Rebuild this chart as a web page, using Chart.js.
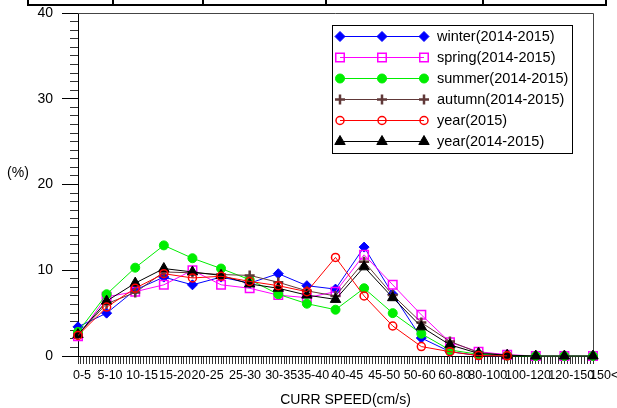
<!DOCTYPE html>
<html>
<head>
<meta charset="utf-8">
<script src="https://cdn.jsdelivr.net/npm/chart.js@4.4.1/dist/chart.umd.min.js"></script>
<style>
  html, body { margin: 0; padding: 0; background: #fff; }
  #wrap { position: relative; width: 617px; height: 408px; overflow: hidden; }
  #chart { position: absolute; left: 0; top: 0; }
  .rule { position: absolute; background: #000; }
</style>
</head>
<body>
<div id="wrap">
  <!-- bottom edge of the table above the figure -->
  <div class="rule" style="left:27px; top:4px; width:580px; height:2px"></div>
  <div class="rule" style="left:27px; top:0; width:2px; height:6px"></div>
  <div class="rule" style="left:112px; top:0; width:2px; height:6px"></div>
  <div class="rule" style="left:202px; top:0; width:2px; height:6px"></div>
  <div class="rule" style="left:325px; top:0; width:2px; height:6px"></div>
  <div class="rule" style="left:482px; top:0; width:2px; height:6px"></div>
  <div class="rule" style="left:605px; top:0; width:2px; height:6px"></div>
  <canvas id="chart" width="617" height="408"></canvas>
</div>
<script>
const speedLabels = ['0-5', '5-10', '10-15', '15-20', '20-25', '25-30', '30-35', '35-40',
  '40-45', '45-50', '50-60', '60-80', '80-100', '100-120', '120-150', '150<'];
// where each speed label sits along the point index axis
const labelAt = [0.14, 1.12, 2.24, 3.39, 4.53, 5.84, 7.10, 8.22, 9.41, 10.70,
  11.94, 13.15, 14.32, 15.73, 17.24, 18.39];

const yTicks = [0, 10, 20, 30, 40];

// frequency (%) per speed class, 19 points each
const winter   = [3.4, 5.0, 7.7, 9.2, 8.3, 9.2, 8.5, 9.6, 8.2, 7.8, 12.7, 7.2, 2.1, 0.5, 0.05, 0.02, null, null, null];
const spring   = [2.3, 6.9, 7.5, 8.3, 10.0, 8.3, 7.9, 7.1, 6.8, 7.5, 11.8, 8.3, 4.8, 1.6, 0.5, 0.15, 0, 0, 0];
const summer   = [2.8, 7.2, 10.3, 12.9, 11.4, 10.2, 8.9, 7.2, 6.1, 5.4, 7.9, 5.0, 2.6, 0.7, 0.2, 0.05, 0, 0, 0];
const autumn   = [2.5, 6.1, 7.4, 9.8, 9.7, 9.5, 9.4, 8.6, 7.6, 7.0, 11.0, 7.1, 3.9, 1.7, 0.4, 0.1, null, null, null];
const year2015 = [2.4, 5.7, 7.9, 9.6, 9.1, 9.3, 8.7, 8.2, 7.5, 11.5, 7.0, 3.5, 1.1, 0.5, 0.05, 0.02, null, null, null];
const yearAll  = [2.5, 6.4, 8.5, 10.2, 9.8, 9.4, 8.4, 7.9, 7.1, 6.6, 10.4, 6.8, 3.4, 1.3, 0.3, 0.1, 0, 0, 0];

const FONT = 'Arial, "Liberation Sans", Helvetica, sans-serif';
Chart.defaults.font.family = FONT;

function series(label, values, color, style, radius, fill, pointBorder, order) {
  return {
    label: label,
    data: values.map((v, i) => ({ x: i, y: v })),
    borderColor: color,
    borderWidth: 1,
    pointStyle: style,
    pointRadius: radius,
    pointHoverRadius: radius,
    pointBackgroundColor: fill,
    pointBorderColor: color,
    pointBorderWidth: pointBorder,
    tension: 0,
    clip: false,
    order: order
  };
}

const datasets = [
  series('winter(2014-2015)', winter, '#0000ff', 'rectRot', 5, '#0000ff', 1, 6),
  series('spring(2014-2015)', spring, '#ff00ff', 'rect', 6, 'rgba(0,0,0,0)', 1.5, 5),
  series('summer(2014-2015)', summer, '#00ee00', 'circle', 4.5, '#00ee00', 1, 4),
  series('autumn(2014-2015)', autumn, '#603838', 'cross', 5, '#603838', 2.5, 3),
  series('year(2015)', year2015, '#ff0000', 'circle', 4, 'rgba(0,0,0,0)', 1.5, 1),
  series('year(2014-2015)', yearAll, '#000000', 'triangle', 6, '#000000', 1, 2)
];

// top and right edges of the plot frame
const frame = {
  id: 'frame',
  beforeDatasetsDraw(chart) {
    const { ctx, chartArea: a } = chart;
    ctx.save();
    ctx.strokeStyle = '#444';
    ctx.lineWidth = 1;
    ctx.beginPath();
    ctx.moveTo(a.left, Math.round(a.top) + 0.5);
    ctx.lineTo(Math.round(a.right) + 0.5, Math.round(a.top) + 0.5);
    ctx.lineTo(Math.round(a.right) + 0.5, a.bottom);
    ctx.stroke();
    ctx.restore();
  }
};

// legend with three markers on each sample line
const legendBox = {
  id: 'legendBox',
  afterDraw(chart) {
    const ctx = chart.ctx;
    const left = 332, top = 25, w = 240, h = 128;
    ctx.save();
    ctx.fillStyle = '#fff';
    ctx.fillRect(left, top, w, h);
    ctx.strokeStyle = '#000';
    ctx.lineWidth = 1;
    ctx.strokeRect(left + 0.5, top + 0.5, w, h);
    chart.data.datasets.forEach((ds, i) => {
      const y = top + 11 + i * 21;
      ctx.strokeStyle = ds.borderColor;
      ctx.lineWidth = 1;
      ctx.beginPath();
      ctx.moveTo(340, y + 0.5);
      ctx.lineTo(424, y + 0.5);
      ctx.stroke();
      [340, 382, 424].forEach(x => {
        ctx.fillStyle = ds.pointBackgroundColor;
        ctx.strokeStyle = ds.pointBorderColor;
        ctx.lineWidth = ds.pointBorderWidth;
        Chart.helpers.drawPoint(ctx, {
          pointStyle: ds.pointStyle,
          radius: ds.pointRadius,
          borderWidth: ds.pointBorderWidth,
          rotation: 0
        }, x, y + 0.5);
      });
      ctx.fillStyle = '#000';
      ctx.font = '14.5px ' + FONT;
      ctx.textAlign = 'left';
      ctx.textBaseline = 'middle';
      ctx.fillText(ds.label, 437, y + 1);
    });
    ctx.restore();
  }
};

// unit mark beside the y axis and the x axis title
const axisText = {
  id: 'axisText',
  afterDraw(chart) {
    const { ctx, chartArea: a } = chart;
    ctx.save();
    ctx.fillStyle = '#000';
    ctx.font = '14px ' + FONT;
    ctx.textAlign = 'center';
    ctx.textBaseline = 'middle';
    ctx.fillText('(%)', 18, 173);
    ctx.fillText('CURR SPEED(cm/s)', (a.left + a.right) / 2 + 10, 400);
    ctx.restore();
  }
};

function noPad(s) {
  s.paddingLeft = 0; s.paddingRight = 0; s.paddingTop = 0; s.paddingBottom = 0;
}

new Chart(document.getElementById('chart'), {
  type: 'line',
  data: { datasets: datasets },
  options: {
    responsive: false,
    animation: false,
    events: [],
    layout: { padding: { top: 13, right: 24, left: 0, bottom: 0 } },
    plugins: { legend: { display: false }, tooltip: { enabled: false } },
    scales: {
      x: {
        type: 'linear', min: 0, max: 18, position: 'bottom', weight: 0,
        afterBuildTicks: s => { s.ticks = Array.from({ length: 181 }, (_, k) => ({ value: k / 10 })); },
        afterFit: s => { s.height = 0; noPad(s); },
        ticks: { display: false, autoSkip: false },
        grid: { drawOnChartArea: false, tickLength: 8, color: '#333' },
        border: { display: true, color: '#000', width: 1 }
      },
      xl: {
        type: 'linear', min: 0, max: 18, position: 'bottom', weight: 1,
        afterBuildTicks: s => { s.ticks = labelAt.map(v => ({ value: v })); },
        afterFit: s => { s.height = 52; noPad(s); },
        ticks: {
          autoSkip: false, maxRotation: 0, minRotation: 0, padding: 12,
          color: '#000', font: { size: 12.5 },
          callback: (v, i) => speedLabels[i]
        },
        grid: { display: false, drawTicks: false },
        border: { display: false }
      },
      y: {
        type: 'linear', min: 0, max: 40, position: 'left', weight: 0,
        afterBuildTicks: s => { s.ticks = Array.from({ length: 41 }, (_, k) => ({ value: k })); },
        afterFit: s => { s.width = 0; noPad(s); },
        ticks: { display: false, autoSkip: false },
        grid: { drawOnChartArea: false, tickLength: 8, color: '#333' },
        border: { display: true, color: '#000', width: 1 }
      },
      yl: {
        type: 'linear', min: 0, max: 40, position: 'left', weight: 1,
        afterBuildTicks: s => { s.ticks = yTicks.map(v => ({ value: v })); },
        afterFit: s => { s.width = 78; noPad(s); },
        ticks: { padding: 9, color: '#000', font: { size: 14 }, autoSkip: false },
        grid: { drawOnChartArea: false, tickLength: 16, color: '#000' },
        border: { display: false }
      }
    }
  },
  plugins: [frame, legendBox, axisText]
});
</script>
</body>
</html>
